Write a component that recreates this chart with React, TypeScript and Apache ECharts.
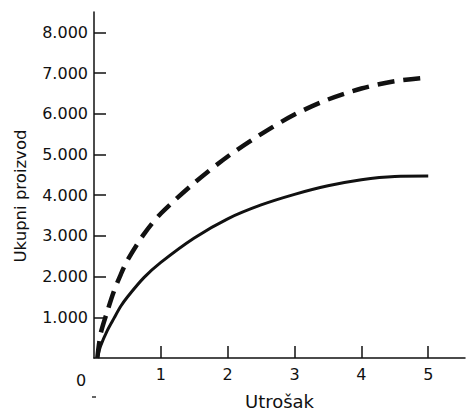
import React, { useEffect, useRef } from "react";
import * as echarts from "echarts";

const inputValues = [0.05, 0.1, 0.2, 0.3, 0.4, 0.5, 0.75, 1, 1.5, 2, 2.5, 3, 3.5, 4, 4.5, 5];
const solidOutput = [0, 300, 680, 980, 1270, 1500, 1980, 2350, 2950, 3420, 3760, 4020, 4230, 4380, 4460, 4470];
const dashedOutput = [0, 600, 1150, 1650, 2050, 2400, 3050, 3550, 4300, 4950, 5500, 5980, 6350, 6620, 6800, 6890];
const xTicks = [1, 2, 3, 4, 5];
const yTicks = [1000, 2000, 3000, 4000, 5000, 6000, 7000, 8000];

const FONT = "DejaVu Sans";

export default function App() {
  const ref = useRef<HTMLDivElement>(null);
  useEffect(() => {
    if (!ref.current) return;
    const chart = echarts.init(ref.current, null, { renderer: "svg" });
    chart.setOption({
      animation: false,
      backgroundColor: "#fff",
      grid: { left: 94, right: 3, top: 12, bottom: 50, containLabel: false },
      xAxis: {
        type: "value",
        min: 0,
        max: 5.55,
        name: "Utrošak",
        nameLocation: "middle",
        nameGap: 34,
        nameTextStyle: { fontFamily: FONT, fontSize: 18, color: "#111" },
        axisLine: { show: true, lineStyle: { color: "#111", width: 1.5 } },
        axisTick: { show: true, inside: true, length: 12, customValues: xTicks, lineStyle: { color: "#111", width: 1.5 } },
        axisLabel: { customValues: xTicks, margin: 8, fontFamily: FONT, fontSize: 16, color: "#111" },
        splitLine: { show: false },
      },
      yAxis: {
        type: "value",
        min: 0,
        max: 8500,
        axisLine: { show: true, lineStyle: { color: "#111", width: 1.5 } },
        axisTick: { show: true, inside: true, length: 12, customValues: yTicks, lineStyle: { color: "#111", width: 1.5 } },
        axisLabel: {
          customValues: yTicks,
          margin: 6,
          fontFamily: FONT,
          fontSize: 16,
          color: "#111",
          formatter: (v: number) => `${Math.round(v / 1000)}.000`,
        },
        splitLine: { show: false },
      },
      graphic: [
        {
          type: "text",
          x: 20,
          y: 196,
          rotation: Math.PI / 2,
          style: { text: "Ukupni proizvod", font: `16.5px "${FONT}"`, fill: "#111", align: "center", verticalAlign: "middle" },
        },
        { type: "text", left: 76, top: 372, style: { text: "0", font: `16px "${FONT}"`, fill: "#111" } },
        { type: "line", shape: { x1: 92, y1: 397, x2: 96, y2: 397 }, style: { stroke: "#333", lineWidth: 1.5 } },
      ],
      series: [
        {
          type: "line",
          data: inputValues.map((x, i) => [x, dashedOutput[i]]),
          smooth: 0.3,
          symbol: "none",
          lineStyle: { color: "#111", width: 4.5, type: [17, 9], cap: "butt" },
        },
        {
          type: "line",
          data: inputValues.map((x, i) => [x, solidOutput[i]]),
          smooth: 0.3,
          symbol: "none",
          lineStyle: { color: "#111", width: 3 },
        },
      ],
    });
    return () => chart.dispose();
  }, []);
  return <div ref={ref} style={{ position: "absolute", left: 0, top: 0, width: 468, height: 415 }} />;
}
